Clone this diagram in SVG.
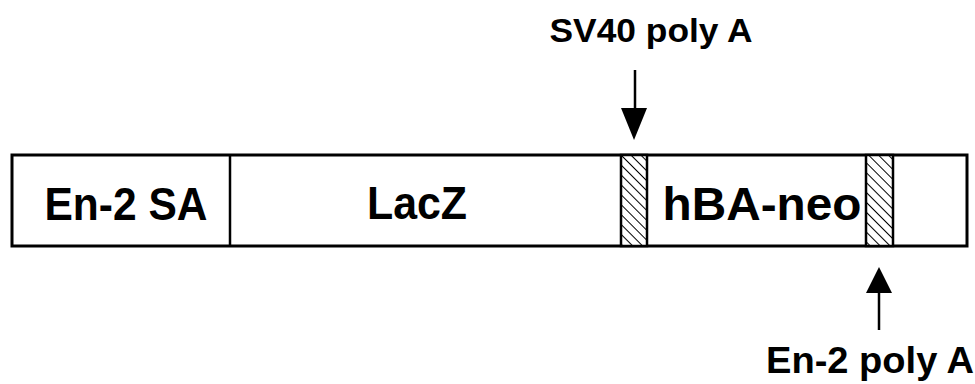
<svg xmlns="http://www.w3.org/2000/svg" width="975" height="384" viewBox="0 0 975 384">
<style>
.box{fill:#fff;stroke:#000;stroke-width:3}
.div{stroke:#000;stroke-width:2.5;fill:none}
.hatch{fill:url(#h);stroke:#000;stroke-width:2.5}
.lbl{font-family:"Liberation Sans",Arial,sans-serif;font-weight:bold;fill:#000}
.conn{stroke:#000;stroke-width:2.5;fill:none}
</style>
<defs>
<pattern id="h" patternUnits="userSpaceOnUse" width="7" height="7" patternTransform="rotate(-45)">
<rect width="7" height="7" fill="#fff"/>
<line x1="0" y1="0" x2="0" y2="7" stroke="#000" stroke-width="2"/>
</pattern>
</defs>
<g id="construct">
<rect class="box" x="12" y="155" width="955" height="91"/>
</g>
<g id="en2sa">
<line class="div" x1="230" y1="155" x2="230" y2="246"/>
<text class="lbl" x="126" y="220" font-size="46" text-anchor="middle" textLength="163" lengthAdjust="spacingAndGlyphs">En-2 SA</text>
</g>
<g id="lacz">
<text class="lbl" x="417" y="219" font-size="46" text-anchor="middle" textLength="100" lengthAdjust="spacingAndGlyphs">LacZ</text>
</g>
<g id="sv40">
<rect class="hatch" x="621" y="155" width="26" height="91"/>
</g>
<g id="hbaneo">
<text class="lbl" x="762" y="220" font-size="46" text-anchor="middle" textLength="199" lengthAdjust="spacingAndGlyphs">hBA-neo</text>
</g>
<g id="en2polyA">
<rect class="hatch" x="866" y="155" width="27" height="91"/>
</g>
<g id="labels">
<text class="lbl" x="651" y="42" font-size="33" text-anchor="middle" textLength="203" lengthAdjust="spacingAndGlyphs">SV40 poly A</text>
<text class="lbl" x="870" y="373" font-size="36" text-anchor="middle" textLength="208" lengthAdjust="spacingAndGlyphs">En-2 poly A</text>
</g>
<g id="connectors">
<line class="conn" x1="635" y1="70" x2="635" y2="110"/>
<path d="M621,108 L647,108 L634,140 Z" fill="#000"/>
<line class="conn" x1="879" y1="330" x2="879" y2="291"/>
<path d="M866,293 L892,293 L879,267 Z" fill="#000"/>
</g>
</svg>
